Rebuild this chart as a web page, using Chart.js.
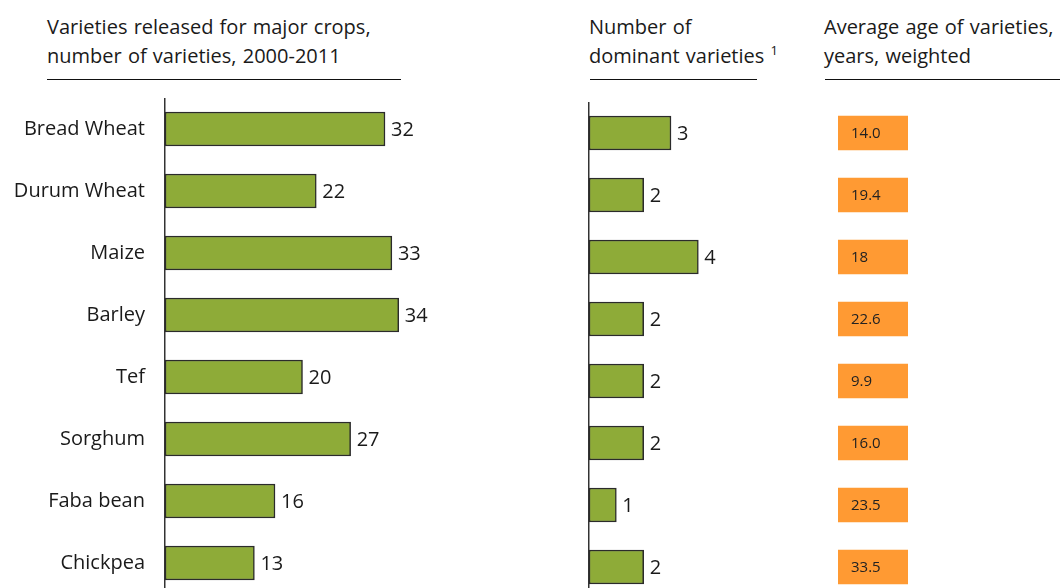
<!DOCTYPE html>
<html>
<head>
<meta charset="utf-8">
<script src="https://cdn.jsdelivr.net/npm/chart.js@4"></script>
<style>
  html, body { margin: 0; padding: 0; background: #fff; overflow: hidden; }
  body { width: 1060px; height: 588px; position: relative; font-family: "Open Sans", Lato, sans-serif; color: #1a1a1a; }
  .title { position: absolute; top: 12px; font-size: 20px; line-height: 29px; white-space: nowrap; word-spacing: 1px; }
  .rule { position: absolute; top: 79px; height: 0; border-top: 1.5px solid #111; }
  .box { position: absolute; }
  sup { font-size: 13px; vertical-align: 8px; line-height: 0; }
</style>
</head>
<body>
<div class="title" style="left:47px">Varieties released for major crops,<br>number of varieties, 2000-2011</div>
<div class="title" style="left:589px">Number of<br>dominant varieties <sup>1</sup></div>
<div class="title" style="left:824px">Average age of varieties,<br>years, weighted</div>
<div class="rule" style="left:47px; width:354px"></div>
<div class="rule" style="left:590px; width:167px"></div>
<div class="rule" style="left:825px; width:235px"></div>

<div class="box" style="left:0; top:98px; width:440px; height:496px"><canvas id="releasedChart"></canvas></div>
<div class="box" style="left:580px; top:102px; width:173px; height:496px"><canvas id="dominantChart"></canvas></div>
<div class="box" style="left:838px; top:102px; width:70px; height:496px"><canvas id="ageChart"></canvas></div>

<script>
const crops = ['Bread Wheat', 'Durum Wheat', 'Maize', 'Barley', 'Tef', 'Sorghum', 'Faba bean', 'Chickpea'];
const released = [32, 22, 33, 34, 20, 27, 16, 13];
const dominant = [3, 2, 4, 2, 2, 2, 1, 2];
const avgAge = ['14.0', '19.4', '18', '22.6', '9.9', '16.0', '23.5', '33.5'];

const FONT = '"Open Sans", Lato, sans-serif';
const green = '#8eab38';
const orange = '#ff9a33';

// writes the value next to (or inside) each bar
const valueLabels = {
  id: 'valueLabels',
  afterDatasetsDraw(chart, args, opts) {
    const ctx = chart.ctx;
    const meta = chart.getDatasetMeta(0);
    ctx.save();
    ctx.font = opts.font;
    ctx.fillStyle = opts.color;
    ctx.textBaseline = 'middle';
    meta.data.forEach((bar, i) => {
      const x = opts.inside ? bar.base + opts.offset : bar.x + opts.offset;
      ctx.fillText(opts.labels[i], x, bar.y + 1);
    });
    ctx.restore();
  }
};

Chart.defaults.font.family = FONT;
Chart.defaults.animation = false;

function barChart(id, data, cfg) {
  return new Chart(document.getElementById(id), {
    type: 'bar',
    data: {
      labels: crops,
      datasets: [{
        data: data,
        backgroundColor: cfg.color,
        borderColor: '#2b2b2b',
        borderWidth: cfg.border,
        borderSkipped: false,
        barThickness: 34
      }]
    },
    options: {
      indexAxis: 'y',
      responsive: true,
      maintainAspectRatio: false,
      layout: { padding: 0 },
      scales: {
        x: { display: false, min: 0, max: cfg.max },
        y: {
          display: cfg.yAxis,
          grid: { display: false, drawTicks: false },
          border: { display: true, color: '#333', width: 1.5 },
          ticks: {
            display: cfg.ticks,
            padding: 20,
            color: '#1a1a1a',
            font: { size: 20 }
          },
          afterFit: (scale) => {
            scale.width = cfg.axisWidth;
            // tick padding would otherwise shrink the plot vertically
            scale.paddingTop = 0;
            scale.paddingBottom = 0;
          }
        }
      },
      plugins: {
        legend: { display: false },
        tooltip: { enabled: false },
        valueLabels: cfg.labels
      }
    },
    plugins: [valueLabels]
  });
}

barChart('releasedChart', released, {
  color: green, border: 1.5, max: 40, yAxis: true, ticks: true, axisWidth: 165,
  labels: { labels: released.map(String), font: '20px ' + FONT, color: '#1a1a1a', offset: 6 }
});

barChart('dominantChart', dominant, {
  color: green, border: 1.5, max: 6, yAxis: true, ticks: false, axisWidth: 9,
  labels: { labels: dominant.map(String), font: '20px ' + FONT, color: '#1a1a1a', offset: 6 }
});

// equal-width boxes, the age is printed inside
barChart('ageChart', avgAge.map(() => 1), {
  color: orange, border: 0, max: 1, yAxis: false, ticks: false, axisWidth: 0,
  labels: { labels: avgAge, font: '15px ' + FONT, color: '#222', offset: 13, inside: true }
});
</script>
</body>
</html>
